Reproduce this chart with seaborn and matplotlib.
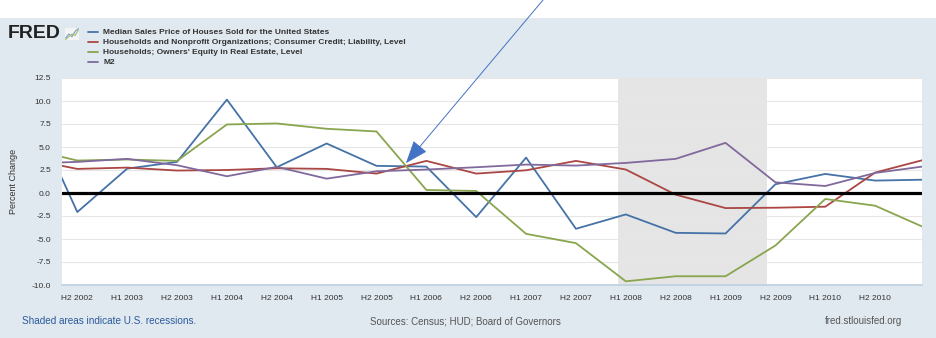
import matplotlib
matplotlib.use("Agg")
import matplotlib.pyplot as plt
import seaborn as sns
import pandas as pd
import numpy as np

# Half-year periods (H1 2002 .. H1 2011)
periods = ["H1 2002", "H2 2002", "H1 2003", "H2 2003", "H1 2004", "H2 2004",
           "H1 2005", "H2 2005", "H1 2006", "H2 2006", "H1 2007", "H2 2007",
           "H1 2008", "H2 2008", "H1 2009", "H2 2009", "H1 2010", "H2 2010",
           "H1 2011"]

# Percent change, semiannual
median_price = [9.8, -2.07, 2.65, 3.38, 10.15, 2.8, 5.38, 2.95, 2.87, -2.62,
                3.85, -3.89, -2.33, -4.33, -4.4, 0.95, 2.07, 1.35, 1.45]
consumer_credit = [3.7, 2.62, 2.76, 2.44, 2.5, 2.69, 2.62, 2.11, 3.49, 2.11,
                   2.47, 3.49, 2.55, -0.18, -1.64, -1.6, -1.49, 2.22, 3.64]
owners_equity = [4.8, 3.53, 3.64, 3.49, 7.45, 7.56, 6.98, 6.69, 0.33, 0.22,
                 -4.44, -5.45, -9.6, -9.05, -9.05, -5.71, -0.65, -1.38, -3.78]
m2 = [3.2, 3.38, 3.71, 3.02, 1.82, 2.84, 1.56, 2.36, 2.55, 2.8,
      3.09, 2.98, 3.27, 3.71, 5.45, 1.16, 0.76, 2.18, 2.91]

series_names = [
    "Median Sales Price of Houses Sold for the United States",
    "Households and Nonprofit Organizations; Consumer Credit; Liability, Level",
    "Households; Owners' Equity in Real Estate, Level",
    "M2",
]
series_colors = ["#4572a7", "#aa4643", "#89a54e", "#80699b"]

tick_labels = periods[1:18]
recession_span = (11.84, 14.84)  # Dec 2007 - Jun 2009

rows = []
for name, vals in zip(series_names,
                      [median_price, consumer_credit, owners_equity, m2]):
    for i, v in enumerate(vals):
        rows.append({"idx": i, "value": v, "series": name})
df = pd.DataFrame(rows)

sns.set_theme(style="white")
plt.rcParams["font.family"] = ["Liberation Sans", "DejaVu Sans"]

bg = "#e1e9f0"
fig = plt.figure(figsize=(9.36, 3.38), dpi=100)
fig.patch.set_facecolor(bg)
# white strip across the top
fig.patches.append(plt.Rectangle((0, 1 - 18 / 338), 1, 18 / 338,
                                 transform=fig.transFigure,
                                 facecolor="white", edgecolor="none", zorder=-5))

ax = fig.add_axes([62 / 936, 1 - 285 / 338, (922 - 62) / 936, (285 - 78) / 338])
ax.set_zorder(3)
ax.set_facecolor("white")

ax.axvspan(*recession_span, color="#e5e5e5", zorder=0, lw=0)
for yv in np.arange(-10, 12.6, 2.5):
    ax.axhline(yv, color="#e6e6e6", lw=0.8, zorder=0.5)

sns.lineplot(data=df, x="idx", y="value", hue="series",
             palette=series_colors, hue_order=series_names,
             linewidth=1.3, legend=False, ax=ax, zorder=3)
ax.axhline(0, color="black", lw=2.3, zorder=4)

ax.set_xlim(0.693, 17.94)
ax.set_ylim(-10, 12.5)
ax.set_yticks(np.arange(-10, 12.6, 2.5))
ax.set_yticklabels([f"{v:.1f}" for v in np.arange(-10, 12.6, 2.5)],
                   fontsize=6, color="#333333")
ax.set_xticks(range(1, 18))
ax.set_xticklabels(tick_labels, fontsize=6, color="#333333")
ax.tick_params(axis="x", length=3, color="#c0d0e0", pad=4)
ax.tick_params(axis="y", length=0, pad=8)
ax.set_xlabel("")
ax.set_ylabel("Percent Change", fontsize=6.5, color="#333333", labelpad=10)
for s in ax.spines.values():
    s.set_visible(False)
ax.spines["bottom"].set_visible(True)
ax.spines["bottom"].set_color("#c0d0e0")

# FRED wordmark and legend
fig.text(8 / 936, 1 - 33 / 338, "FRED", fontsize=14, fontweight="bold",
         color="#222222", va="center", ha="left")
icon = fig.add_axes([65 / 936, 1 - 40 / 338, 14 / 936, 12 / 338])
icon.set_facecolor("#f4f4f4")
icon.plot([0, 1, 2, 3, 4], [0.2, 0.5, 0.3, 0.7, 0.9], color="#7a9cc6", lw=0.8)
icon.plot([0, 1, 2, 3, 4], [0.1, 0.3, 0.5, 0.4, 0.8], color="#9fbe6d", lw=0.8)
icon.set_xticks([]); icon.set_yticks([])
for s in icon.spines.values():
    s.set_visible(False)

for k, (name, col) in enumerate(zip(series_names, series_colors)):
    y = 1 - (32 + 10 * k) / 338
    fig.add_artist(plt.Line2D([88 / 936, 98 / 936], [y, y],
                              transform=fig.transFigure, color=col, lw=1.3))
    fig.text(103 / 936, y, name, fontsize=6.0, fontweight="bold",
             color="#333333", va="center", ha="left")

# Arrow pointing at the crossing near early 2006
ax.annotate("", xy=(7.59, 3.24), xycoords="data",
            xytext=(543 / 936, 1.0), textcoords="figure fraction",
            arrowprops=dict(arrowstyle="-|>,head_length=1.2,head_width=0.45",
                            color="#4472c4", lw=0.7, shrinkA=0, shrinkB=0),
            annotation_clip=False, zorder=6)

# Footer
fig.text(22 / 936, 1 - 321 / 338, "Shaded areas indicate U.S. recessions.",
         fontsize=7.2, color="#2a5a9c", va="center", ha="left")
fig.text(465 / 936, 1 - 321 / 338, "Sources: Census; HUD; Board of Governors",
         fontsize=7, color="#555555", va="center", ha="center")
fig.text(902 / 936, 1 - 321 / 338, "fred.stlouisfed.org",
         fontsize=7, color="#555555", va="center", ha="right")

fig.savefig("out.png", dpi=100, facecolor=fig.get_facecolor())
